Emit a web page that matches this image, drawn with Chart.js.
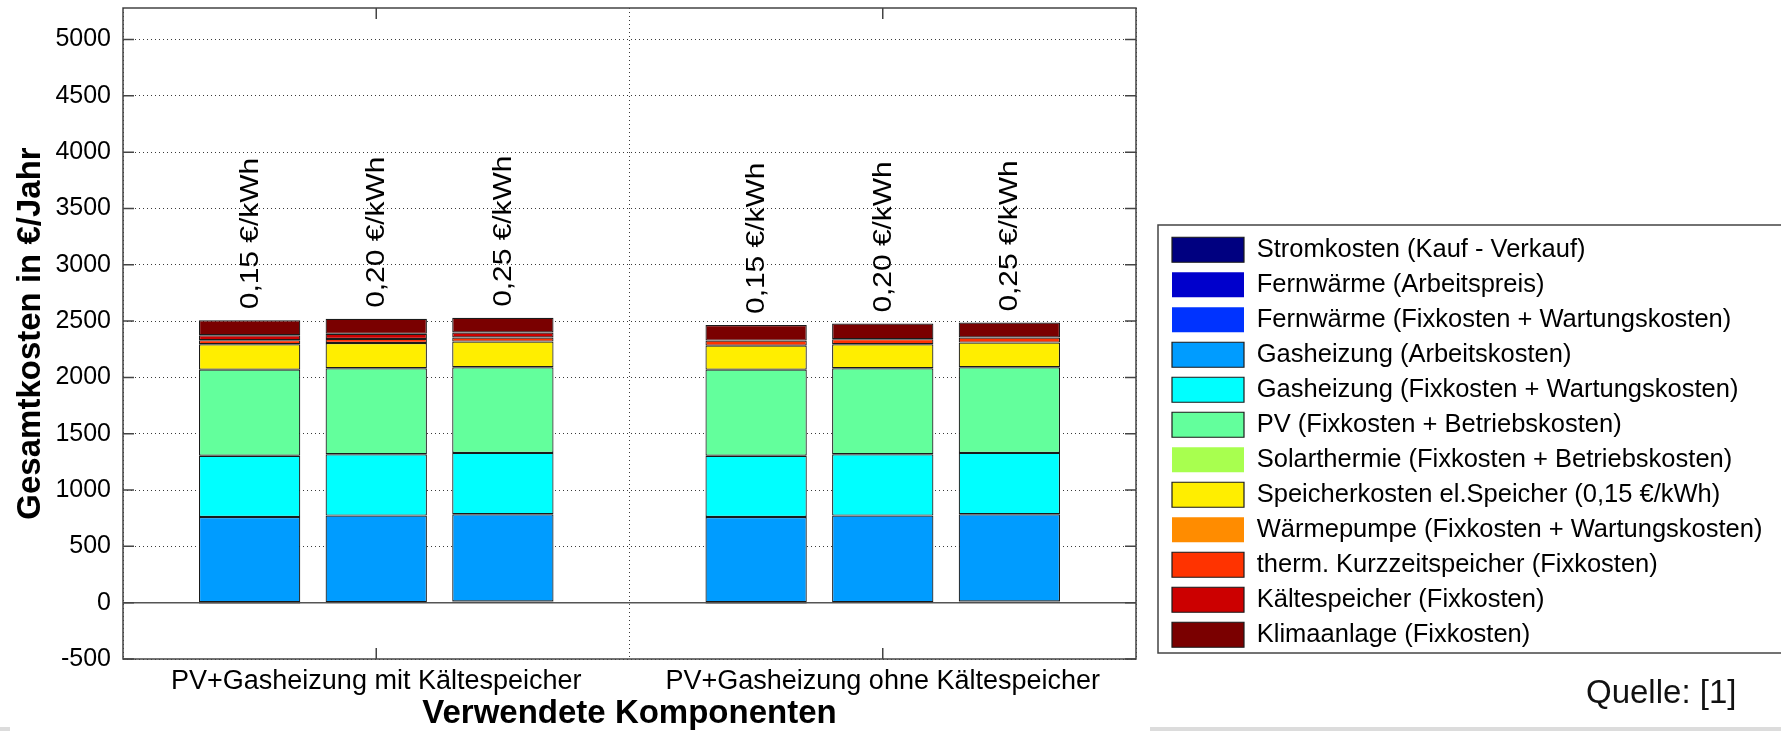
<!DOCTYPE html>
<html>
<head>
<meta charset="utf-8">
<script src="https://cdn.jsdelivr.net/npm/chart.js@4.4.0/dist/chart.umd.min.js"></script>
<style>
  html, body { margin: 0; padding: 0; background: #fff; }
  #wrap { position: relative; width: 1781px; height: 731px; overflow: hidden; }
  #box { position: absolute; left: 0; top: 0; width: 1781px; height: 731px; }
  .strip { position: absolute; background: #dcdcdc; height: 4px; top: 727px; }
  #quelle { position: absolute; left: 1586px; top: 675px; font: 33px "Liberation Sans", Arial, sans-serif; line-height: 1; color: #111; }
</style>
</head>
<body>
<div id="wrap">
  <div class="strip" style="left:0;width:10px"></div>
  <div class="strip" style="left:1150px;width:631px"></div>
  <div id="box"><canvas id="kosten"></canvas></div>
  <div id="quelle">Quelle: [1]</div>
</div>
<script>
// Balkenpositionen (Lücke bei 4 trennt die beiden Gruppen)
const positionen = [1, 2, 3, 5, 6, 7];
const preise = ['0,15 €/kWh', '0,20 €/kWh', '0,25 €/kWh', '0,15 €/kWh', '0,20 €/kWh', '0,25 €/kWh'];
const gruppenTicks = [2, 6];
const gruppenNamen = ['PV+Gasheizung mit Kältespeicher', 'PV+Gasheizung ohne Kältespeicher'];
const yTicks = [-500, 0, 500, 1000, 1500, 2000, 2500, 3000, 3500, 4000, 4500, 5000];

// Kosten in €/Jahr, je Balken
const stromkosten       = [-10, 0, 10, -10, 0, 10];
const fernwaermeArbeit  = [0, 0, 0, 0, 0, 0];
const fernwaermeFix     = [0, 0, 0, 0, 0, 0];
const gasArbeit         = [761, 773, 775, 761, 773, 775];
const gasFix            = [544, 545, 545, 544, 545, 545];
const pv                = [764, 764, 760, 764, 764, 760];
const solarthermie      = [0, 0, 0, 0, 0, 0];
const speicher          = [226, 224, 228, 213, 213, 219];
const waermepumpe       = [0, 0, 0, 0, 0, 0];
const kurzzeitspeicher  = [36, 36, 36, 45, 45, 45];
const kaeltespeicher    = [44, 45, 45, 0, 0, 0];
const klimaanlage       = [133, 133, 130, 139, 138, 133];

const namen = [
  'Stromkosten (Kauf - Verkauf)',
  'Fernwärme (Arbeitspreis)',
  'Fernwärme (Fixkosten + Wartungskosten)',
  'Gasheizung (Arbeitskosten)',
  'Gasheizung (Fixkosten + Wartungskosten)',
  'PV (Fixkosten + Betriebskosten)',
  'Solarthermie (Fixkosten + Betriebskosten)',
  'Speicherkosten el.Speicher (0,15 €/kWh)',
  'Wärmepumpe (Fixkosten + Wartungskosten)',
  'therm. Kurzzeitspeicher (Fixkosten)',
  'Kältespeicher (Fixkosten)',
  'Klimaanlage (Fixkosten)'
];
const farben = ['#000080', '#0000cc', '#0033ff', '#009cff', '#00ffff', '#63ff9c',
                '#a8ff4f', '#ffee00', '#ff8c00', '#ff3300', '#cc0000', '#7a0000'];
const reihen = [stromkosten, fernwaermeArbeit, fernwaermeFix, gasArbeit, gasFix, pv,
                solarthermie, speicher, waermepumpe, kurzzeitspeicher, kaeltespeicher, klimaanlage];

const schrift = '"Liberation Sans", Arial, sans-serif';
Chart.defaults.font.family = schrift;
Chart.defaults.color = '#000';

let datasets = reihen.map((werte, i) => ({
  label: namen[i],
  data: werte,
  backgroundColor: farben[i],
  borderColor: '#1a1a1a',
  borderWidth: c => (c.raw === 0 ? 0 : 1.2),
  borderSkipped: false,
  inflateAmount: 0,
  barPercentage: 0.8,
  categoryPercentage: 1.0
}));

// Legende verschieben/verbreitern + Rahmen
const legendeRahmen = {
  id: 'legendeRahmen',
  afterLayout(chart) {
    const lg = chart.legend;
    lg.left += 26.5;
    lg.right = chart.width + 20;
    lg.width = lg.right - lg.left;
    lg.top -= 74;
    lg.bottom -= 74;
  },
  afterDraw(chart) {
    const lg = chart.legend;
    const h = lg.columnSizes ? lg.columnSizes[0].height : 0;
    const c = chart.ctx;
    c.save();
    c.strokeStyle = '#444';
    c.lineWidth = 1.5;
    c.strokeRect(lg.left - 4.5, lg.bottom - h - 12, chart.width, h + 8);
    c.restore();
  }
};

// Achsenbox, Nulllinie, innere Ticks
const rahmen = {
  id: 'rahmen',
  beforeDatasetsDraw(chart) {
    const {ctx, chartArea: a, scales: {y}} = chart;
    const y0 = y.getPixelForValue(0);
    ctx.save();
    ctx.strokeStyle = '#555';
    ctx.lineWidth = 1.5;
    ctx.beginPath(); ctx.moveTo(a.left, y0); ctx.lineTo(a.right, y0); ctx.stroke();
    ctx.restore();
  },
  afterDatasetsDraw(chart) {
    const {ctx, chartArea: a, scales: {x, y}} = chart;
    ctx.save();
    ctx.strokeStyle = '#444';
    ctx.lineWidth = 1.5;
    ctx.strokeRect(a.left, a.top, a.right - a.left, a.bottom - a.top);
    ctx.beginPath();
    yTicks.forEach(v => {
      const py = y.getPixelForValue(v);
      ctx.moveTo(a.left, py); ctx.lineTo(a.left + 11, py);
      ctx.moveTo(a.right, py); ctx.lineTo(a.right - 11, py);
    });
    gruppenTicks.forEach(v => {
      const px = x.getPixelForValue(v);
      ctx.moveTo(px, a.bottom); ctx.lineTo(px, a.bottom - 11);
      ctx.moveTo(px, a.top); ctx.lineTo(px, a.top + 11);
    });
    ctx.stroke();
    ctx.restore();

    // gedrehte Preisbeschriftung über den Balken
    const meta = chart.getDatasetMeta(0);
    ctx.save();
    ctx.font = '26px ' + schrift;
    ctx.fillStyle = '#000';
    ctx.textAlign = 'left';
    ctx.textBaseline = 'alphabetic';
    preise.forEach((txt, i) => {
      let oben = 0;
      chart.data.datasets.forEach(ds => { if (ds.data[i] > 0) oben += ds.data[i]; });
      ctx.save();
      ctx.translate(meta.data[i].x + 8, y.getPixelForValue(oben) - 11);
      ctx.rotate(-Math.PI / 2);
      ctx.scale(1.15, 1);
      ctx.fillText(txt, 0, 0);
      ctx.restore();
    });
    ctx.restore();
  }
};

const ctx = document.getElementById('kosten');
const myChart = new Chart(ctx, {
  type: 'bar',
  data: { labels: positionen, datasets: datasets },
  options: {
    responsive: true,
    maintainAspectRatio: false,
    animation: false,
    events: [],
    layout: { padding: { top: 8, right: 345, left: 0, bottom: 0 } },
    plugins: {
      tooltip: { enabled: false },
      legend: {
        position: 'right',
        align: 'end',
        maxWidth: 300,
        labels: { boxWidth: 72, boxHeight: 25, padding: 9.5, font: { size: 25.5 }, color: '#000' }
      }
    },
    scales: {
      x: {
        type: 'linear', min: 0, max: 8, offset: false, stacked: true,
        afterBuildTicks: s => { s.ticks = gruppenTicks.map(v => ({ value: v })); },
        afterFit: s => { s.height = 72; s.paddingLeft = 0; s.paddingRight = 0; },
        ticks: {
          callback: v => gruppenNamen[gruppenTicks.indexOf(v)],
          font: { size: 27 }, color: '#000', padding: 6, maxRotation: 0, autoSkip: false
        },
        grid: { color: '#3a3a3a', lineWidth: 1, drawTicks: false },
        border: { display: false, dash: [1, 3] },
        title: {
          display: true, text: 'Verwendete Komponenten', color: '#000',
          font: { size: 33, weight: 'bold', lineHeight: 1 }, padding: { top: 0, bottom: 1 }
        }
      },
      y: {
        type: 'linear', min: -500, max: 5280, stacked: true,
        afterBuildTicks: s => { s.ticks = yTicks.map(v => ({ value: v })); },
        afterFit: s => { s.width = 123; s.paddingTop = 0; s.paddingBottom = 0; },
        ticks: { callback: v => String(v), font: { size: 25 }, color: '#000', padding: 12 },
        grid: { color: '#3a3a3a', lineWidth: 1, drawTicks: false },
        border: { display: false, dash: [1, 3] },
        title: {
          display: true, text: 'Gesamtkosten in €/Jahr', color: '#000',
          font: { size: 33, weight: 'bold', lineHeight: 1.2 }, padding: { top: 11, bottom: 0 }
        }
      }
    }
  },
  plugins: [legendeRahmen, rahmen]
});
</script>
</body>
</html>
